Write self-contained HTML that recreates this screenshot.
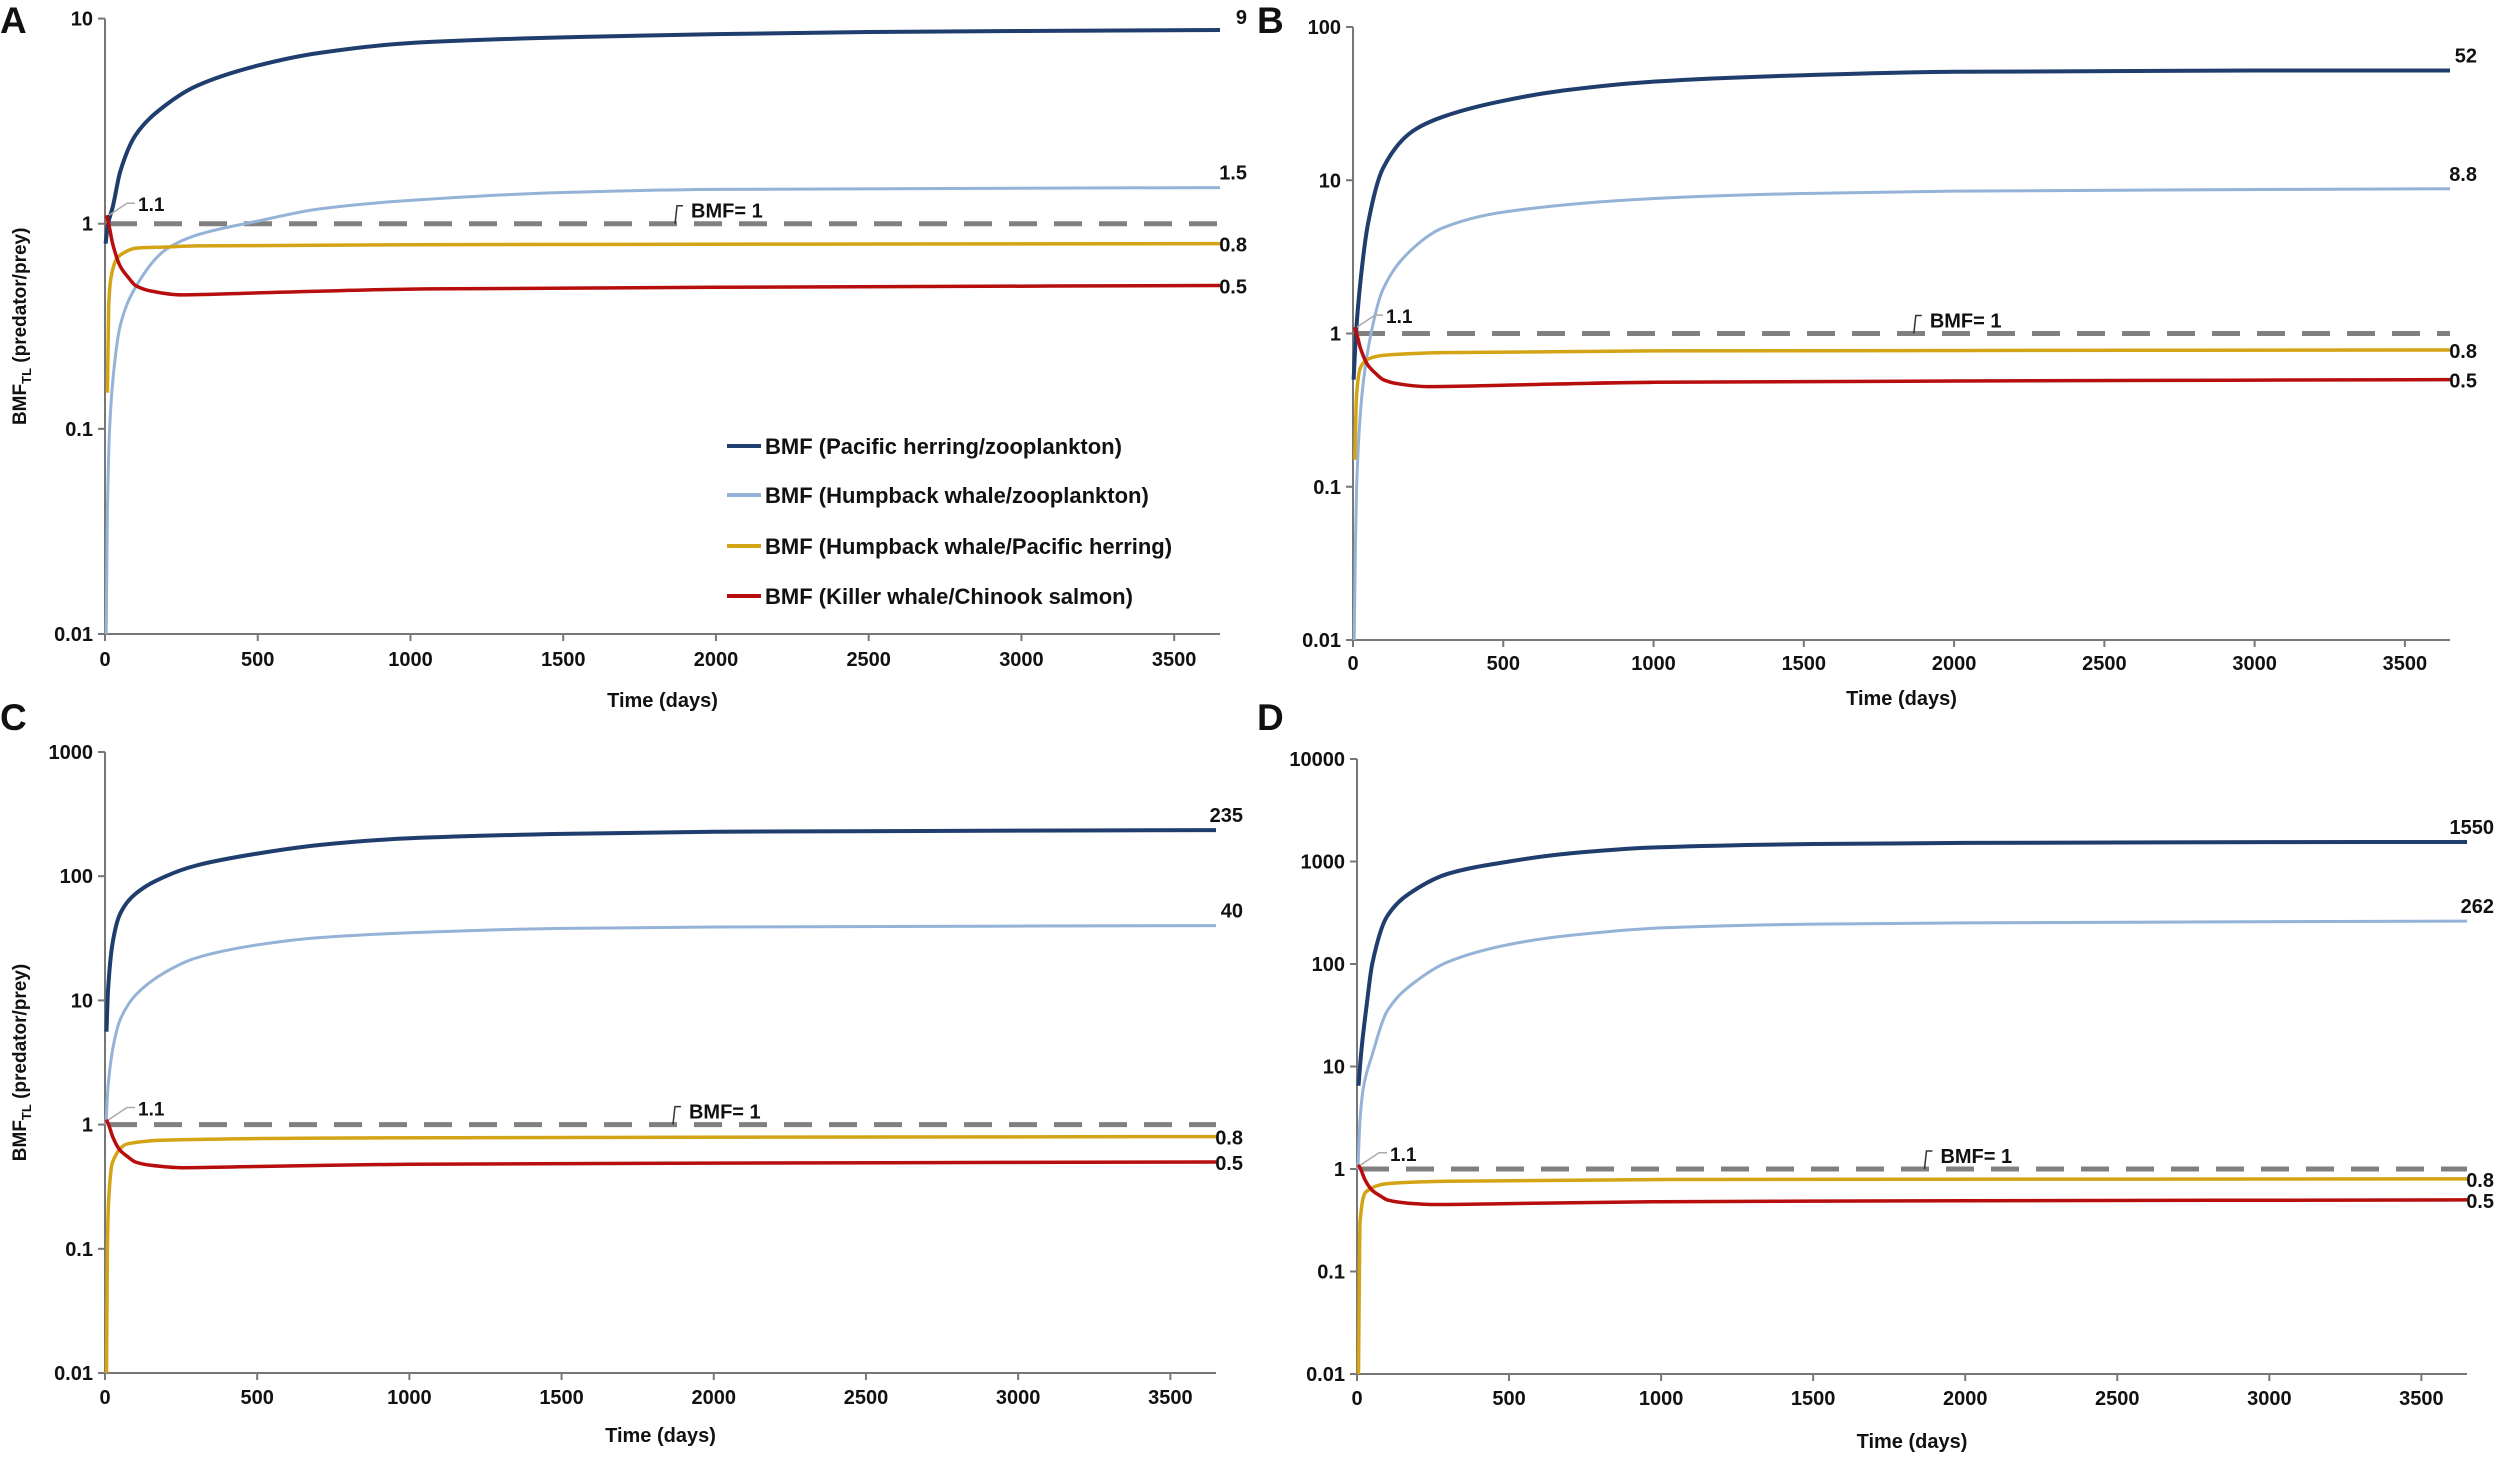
<!DOCTYPE html>
<html><head><meta charset="utf-8"><title>BMF time series</title>
<style>
html,body{margin:0;padding:0;background:#fff;}
svg{display:block;}
text{font-family:"Liberation Sans",Arial,sans-serif;font-weight:bold;fill:#111;}
</style></head>
<body>
<svg id="fig" width="2500" height="1459" viewBox="0 0 2500 1459" xmlns="http://www.w3.org/2000/svg"></svg>
<script>
// ---- data (time in days, BMF values) ----
const tA_herring = [2,10,25,50,100,200,300,500,700,1000,1500,2000,2500,3000,3650];
const vA_herring = [0.8,1.0,1.2,1.8,2.7,3.8,4.7,5.9,6.8,7.6,8.1,8.4,8.6,8.7,8.8];
const tA_hwzoo = [4,8,15,30,50,100,200,300,500,700,1000,1500,2000,3650];
const vA_hwzoo = [0.01,0.04,0.1,0.2,0.32,0.49,0.75,0.88,1.03,1.18,1.3,1.42,1.47,1.5];
const tA_hwher = [8,12,20,40,60,100,200,300,1000,3650];
const vA_hwher = [0.15,0.4,0.55,0.68,0.72,0.76,0.77,0.78,0.79,0.8];
const tA_kw = [5,15,25,50,75,100,150,250,500,1000,2000,3650];
const vA_kw = [1.1,0.95,0.8,0.62,0.55,0.5,0.47,0.45,0.46,0.48,0.49,0.5];

const tB_herring = [2,10,25,50,100,200,300,500,700,1000,1500,2000,3000,3650];
const vB_herring = [0.5,1.0,2.2,5.2,12,21,26,33,38.5,44,48.5,51,52,52];
const tB_hwzoo = [4,8,12,30,60,100,200,300,500,1000,1500,2000,3650];
const vB_hwzoo = [0.01,0.04,0.1,0.4,1.0,1.95,3.6,4.9,6.2,7.6,8.2,8.5,8.8];
const tB_hwher = [6,12,25,50,100,300,1000,3650];
const vB_hwher = [0.15,0.4,0.6,0.68,0.72,0.75,0.77,0.78];
const tB_kw = [5,15,25,50,75,100,150,250,500,1000,2000,3650];
const vB_kw = [1.1,0.95,0.8,0.62,0.55,0.5,0.47,0.45,0.46,0.48,0.49,0.5];

const tC_herring = [5,10,25,50,100,200,300,500,700,1000,1500,2000,3000,3650];
const vC_herring = [5.6,12,29,50,72,100,122,152,178,202,219,228,233,235];
const tC_hwzoo = [3,10,25,50,100,200,300,500,700,1000,1500,2000,3650];
const vC_hwzoo = [1.0,2.0,4.0,7.0,11,17,22,28,32,35,38,39,40];
const tC_hwher = [5,8,12,25,75,200,800,3650];
const vC_hwher = [0.01,0.1,0.25,0.5,0.7,0.75,0.78,0.8];
const tC_kw = [5,15,25,50,75,100,150,250,500,1000,2000,3650];
const vC_kw = [1.1,0.95,0.8,0.62,0.55,0.5,0.47,0.45,0.46,0.48,0.49,0.5];

const tD_herring = [5,15,30,50,100,200,300,500,700,1000,1500,2000,3000,3650];
const vD_herring = [6.5,15,36,100,295,550,760,1000,1200,1380,1480,1520,1545,1550];
const tD_hwzoo = [3,10,20,50,100,200,300,500,700,1000,1500,2000,3650];
const vD_hwzoo = [1.0,3,6,13,35,70,105,155,190,225,245,252,262];
const tD_hwher = [5,8,10,30,100,300,1000,3650];
const vD_hwher = [0.01,0.1,0.3,0.6,0.72,0.76,0.79,0.8];
const tD_kw = [5,15,25,50,75,100,150,250,500,1000,2000,3650];
const vD_kw = [1.1,0.95,0.8,0.62,0.55,0.5,0.47,0.45,0.46,0.48,0.49,0.5];

const xTicks = [0,500,1000,1500,2000,2500,3000,3500];
const yTicksA = ["0.01","0.1","1","10"];
const yTicksB = ["0.01","0.1","1","10","100"];
const yTicksC = ["0.01","0.1","1","10","100","1000"];
const yTicksD = ["0.01","0.1","1","10","100","1000","10000"];
const endLabelsA = ["9","1.5","0.8","0.5"];
const endLabelsB = ["52","8.8","0.8","0.5"];
const endLabelsC = ["235","40","0.8","0.5"];
const endLabelsD = ["1550","262","0.8","0.5"];
const legendLabels = ["BMF (Pacific herring/zooplankton)","BMF (Humpback whale/zooplankton)","BMF (Humpback whale/Pacific herring)","BMF (Killer whale/Chinook salmon)"];

const colors = ["#1f3d6d","#95b3d7","#d4a417","#b80d0d"];
const widths = [4,3,3.5,3.5];
const NS = "http://www.w3.org/2000/svg";
const svg = document.getElementById("fig");

function mk(tag, attrs, parent){
  const e = document.createElementNS(NS, tag);
  for (const k in attrs) e.setAttribute(k, attrs[k]);
  (parent||svg).appendChild(e);
  return e;
}

function monoPath(xs, ys){
  const n = xs.length;
  if (n < 2) return "";
  const dx = [], m = [], s = [];
  for (let i=0;i<n-1;i++){ dx[i]=xs[i+1]-xs[i]; s[i]=(ys[i+1]-ys[i])/dx[i]; }
  m[0]=s[0]; m[n-1]=s[n-2];
  for (let i=1;i<n-1;i++){
    if (s[i-1]*s[i] <= 0) m[i]=0;
    else { const w1=2*dx[i]+dx[i-1], w2=dx[i]+2*dx[i-1]; m[i]=(w1+w2)/(w1/s[i-1]+w2/s[i]); }
  }
  let d = `M${xs[0].toFixed(1)} ${ys[0].toFixed(1)}`;
  for (let i=0;i<n-1;i++){
    const h = dx[i]/3;
    d += `C${(xs[i]+h).toFixed(1)} ${(ys[i]+m[i]*h).toFixed(1)} ${(xs[i+1]-h).toFixed(1)} ${(ys[i+1]-m[i+1]*h).toFixed(1)} ${xs[i+1].toFixed(1)} ${ys[i+1].toFixed(1)}`;
  }
  return d;
}

const panels = [
  {id:"a", letter:"A", lx:0, ly:33, x0:105, x1:1220, yTop:18.6, yBot:634, ticks:yTicksA,
   series:[[tA_herring,vA_herring],[tA_hwzoo,vA_hwzoo],[tA_hwher,vA_hwher],[tA_kw,vA_kw]], ends:endLabelsA,
   ytitle:true, legend:true, xl:659, xt:700},
  {id:"b", letter:"B", lx:1257, ly:33, x0:1353, x1:2450, yTop:27, yBot:640, ticks:yTicksB,
   series:[[tB_herring,vB_herring],[tB_hwzoo,vB_hwzoo],[tB_hwher,vB_hwher],[tB_kw,vB_kw]], ends:endLabelsB,
   ytitle:false, legend:false, xl:663, xt:698},
  {id:"c", letter:"C", lx:0, ly:730, x0:105, x1:1216, yTop:752, yBot:1373, ticks:yTicksC,
   series:[[tC_herring,vC_herring],[tC_hwzoo,vC_hwzoo],[tC_hwher,vC_hwher],[tC_kw,vC_kw]], ends:endLabelsC,
   ytitle:true, legend:false, xl:1397, xt:1435},
  {id:"d", letter:"D", lx:1257, ly:730, x0:1357, x1:2467, yTop:759, yBot:1374, ticks:yTicksD,
   series:[[tD_herring,vD_herring],[tD_hwzoo,vD_hwzoo],[tD_hwher,vD_hwher],[tD_kw,vD_kw]], ends:endLabelsD,
   ytitle:false, legend:false, xl:1398, xt:1441}
];

panels.forEach(p => {
  const g = mk("g", {});
  
  
  const lmin = Math.log10(parseFloat(p.ticks[0]));
  const lmax = Math.log10(parseFloat(p.ticks[p.ticks.length-1]));
  const X = t => p.x0 + (t/3650)*(p.x1 - p.x0);
  const Y = v => p.yBot - (Math.log10(v) - lmin)/(lmax - lmin)*(p.yBot - p.yTop);

  const letter = mk("text", {x:p.lx, y:p.ly, "font-size":37}, g);
  letter.textContent = p.letter;
  
  

  const ya = mk("line", {x1:p.x0, y1:p.yTop, x2:p.x0, y2:p.yBot, stroke:"#777", "stroke-width":2}, g);
  
  
  const xa = mk("line", {x1:p.x0, y1:p.yBot, x2:p.x1, y2:p.yBot, stroke:"#777", "stroke-width":2}, g);
  
  

  p.ticks.forEach(tl => {
    const y = Y(parseFloat(tl));
    mk("line", {x1:p.x0-7, y1:y, x2:p.x0, y2:y, stroke:"#777", "stroke-width":2}, g);
    const t = mk("text", {x:p.x0-12, y:y+7, "font-size":20, "text-anchor":"end"}, g);
    t.textContent = tl;
    
    
  });
  xTicks.forEach(tv => {
    const x = X(tv);
    mk("line", {x1:x, y1:p.yBot, x2:x, y2:p.yBot+7, stroke:"#777", "stroke-width":2}, g);
    const t = mk("text", {x:x, y:p.xl+7, "font-size":20, "text-anchor":"middle"}, g);
    t.textContent = tv;
    
    
  });
  const xt = mk("text", {x:(p.x0+p.x1)/2, y:p.xt+7, "font-size":20, "text-anchor":"middle"}, g);
  xt.textContent = "Time (days)";
  
  

  if (p.ytitle){
    const cy = (p.yTop + p.yBot)/2;
    const yt = mk("text", {x:0, y:0, "font-size":19, "text-anchor":"middle", transform:`translate(26,${cy}) rotate(-90)`}, g);
    yt.innerHTML = 'BMF<tspan font-size="13" dy="5">TL</tspan><tspan dy="-5"> (predator/prey)</tspan>';
    
    
  }

  const y1 = Y(1);
  const ref = mk("line", {x1:p.x0+4, y1:y1, x2:p.x1, y2:y1, stroke:"#808080", "stroke-width":5, "stroke-dasharray":"28 17"}, g);
  
  
  const bx = X(1866);
  mk("path", {d:`M${bx} ${y1} L${bx+2} ${y1-18} L${bx+8} ${y1-18}`, fill:"none", stroke:"#333", "stroke-width":1.5}, g);
  const rl = mk("text", {x:bx+16, y:y1-6, "font-size":20}, g);
  rl.textContent = "BMF= 1";
  
  

  const names = ["herring-zooplankton","humpback-zooplankton","humpback-herring","killer-whale-salmon"];
  p.series.forEach((s, i) => {
    const [ts, vs] = s;
    const xs = ts.map(X), ys = vs.map(Y);
    const path = mk("path", {d:monoPath(xs, ys), fill:"none", stroke:colors[i], "stroke-width":widths[i], "stroke-linejoin":"round"}, g);
    
    
    const lv = vs[vs.length-1];
    const el = mk("text", {x:p.x1+27, y:Y(lv)+ (i===0 && p.id==="a" ? -6 : (i<2 ? -8 : 8)), "font-size":20, "text-anchor":"end"}, g);
    el.textContent = p.ends[i];
    
    
  });

  const ky = Y(p.series[3][1][0]);
  mk("path", {d:`M${p.x0+4} ${ky} L${p.x0+22} ${ky-12} L${p.x0+30} ${ky-12}`, fill:"none", stroke:"#aaa", "stroke-width":1.5}, g);
  const a11 = mk("text", {x:p.x0+33, y:ky-4, "font-size":19}, g);
  a11.textContent = "1.1";
  
  

  if (p.legend){
    const rows = [446,495,546,596];
    legendLabels.forEach((lab, i) => {
      const lg = mk("g", {}, g);
      
      
      mk("line", {x1:727, y1:rows[i], x2:761, y2:rows[i], stroke:colors[i], "stroke-width":4}, lg);
      const lt = mk("text", {x:765, y:rows[i]+8, "font-size":22}, lg);
      lt.textContent = lab;
    });
  }
});
</script>
</body></html>
